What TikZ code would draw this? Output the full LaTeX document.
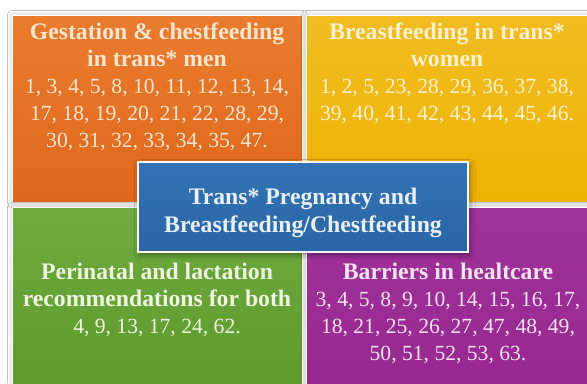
\documentclass[tikz,border=0pt]{standalone}
\usepackage{fontspec}
\setmainfont{Liberation Serif}
\usepackage{xcolor}
\usepackage{tikz}
\usetikzlibrary{shadows.blur}
\definecolor{orngtop}{HTML}{EA7C2E}
\definecolor{orngbot}{HTML}{DF671C}
\definecolor{orngtxt}{HTML}{FCE6CF}
\definecolor{yelltop}{HTML}{F2BC22}
\definecolor{yellbot}{HTML}{EDB300}
\definecolor{yelltxt}{HTML}{FFF2CC}
\definecolor{grntop}{HTML}{6FAA3E}
\definecolor{grnbot}{HTML}{5E9A2E}
\definecolor{grntxt}{HTML}{EEF6DF}
\definecolor{purptop}{HTML}{A0339B}
\definecolor{purpbot}{HTML}{96288F}
\definecolor{purptxt}{HTML}{F6E3F3}
\definecolor{bluetop}{HTML}{3273B5}
\definecolor{bluebot}{HTML}{2A66A6}
\definecolor{bluetxt}{HTML}{E9F1FA}
\newcommand{\hd}[1]{{\fontsize{13.5}{15.4}\selectfont\bfseries #1}}
\tikzset{
  quad/.style 2 args={draw=white,line width=0.6pt,top color=#1,bottom color=#2,inner sep=0pt,anchor=north west,
    blur shadow={shadow xshift=0pt,shadow yshift=0pt,shadow blur radius=3pt,shadow opacity=25}},
  hub/.style={draw=white,line width=1.2pt,top color=bluetop,bottom color=bluebot,inner sep=0pt,
    minimum width=6.6cm,minimum height=1.8cm,
    blur shadow={shadow xshift=1pt,shadow yshift=-1.5pt,shadow blur radius=3pt,shadow opacity=45}},
  txt/.style={anchor=north,inner sep=0pt,align=center,text=#1,font=\fontsize{12.3}{15.4}\selectfont},
}

\begin{document}
\begin{tikzpicture}[x=0.02cm,y=-0.02cm]
  \useasboundingbox[fill=white] (0,0) rectangle (587,383);
  % quadrants
  \node[quad={orngtop}{orngbot},minimum width=5.8cm,minimum height=3.74cm] (gest) at (12,15) {};
  \node[quad={yelltop}{yellbot},minimum width=5.62cm,minimum height=3.74cm] (brst) at (306,15) {};
  \node[quad={grntop}{grnbot},minimum width=5.8cm,minimum height=3.6cm] (peri) at (12,207) {};
  \node[quad={purptop}{purpbot},minimum width=5.62cm,minimum height=3.6cm] (barr) at (306,207) {};
  % texts
  \node[txt=orngtxt] (gesttxt) at (157,22) {\hd{Gestation \& chestfeeding}\\\hd{in trans* men}\\
    1, 3, 4, 5, 8, 10, 11, 12, 13, 14,\\17, 18, 19, 20, 21, 22, 28, 29,\\30, 31, 32, 33, 34, 35, 47.};
  \node[txt=yelltxt] (brsttxt) at (447,22) {\hd{Breastfeeding in trans*}\\\hd{women}\\
    1, 2, 5, 23, 28, 29, 36, 37, 38,\\39, 40, 41, 42, 43, 44, 45, 46.};
  \node[txt=grntxt] (peritxt) at (157,263) {\hd{Perinatal and lactation}\\\hd{recommendations for both}\\
    4, 9, 13, 17, 24, 62.};
  \node[txt=purptxt] (barrtxt) at (448,263) {\hd{Barriers in healtcare}\\
    3, 4, 5, 8, 9, 10, 14, 15, 16, 17,\\18, 21, 25, 26, 27, 47, 48, 49,\\50, 51, 52, 53, 63.};
  % centre
  \node[hub] (trans) at (303,207) {};
  \node[txt=bluetxt,anchor=center,font=\fontsize{13.5}{16}\selectfont\bfseries] (transtxt) at (303,213)
    {Trans* Pregnancy and\\Breastfeeding/Chestfeeding};
\end{tikzpicture}
\end{document}
